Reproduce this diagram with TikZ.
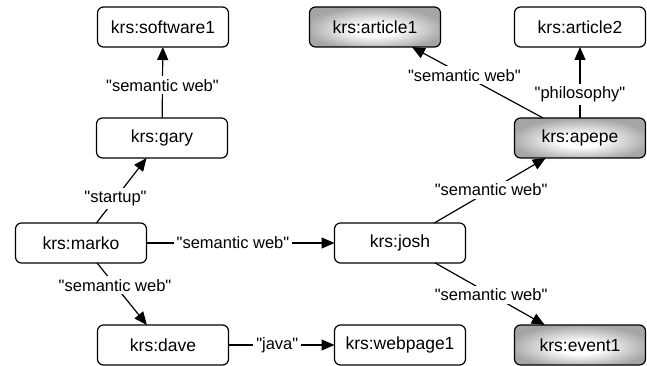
\documentclass[tikz,border=0pt]{standalone}
\usepackage{fontspec}
\setmainfont{Liberation Sans}
\usetikzlibrary{arrows.meta}

\definecolor{cshade}{RGB}{165,165,165}
\pgfdeclareradialshading{boxglow}{\pgfpoint{0bp}{-4bp}}{%
  color(0bp)=(white); color(8bp)=(white); color(27bp)=(cshade); color(50bp)=(cshade)}
\newcommand{\qt}[1]{\textquotedbl#1\textquotedbl}

\tikzset{
  res/.style={draw=black, line width=1.2pt, rounded corners=6pt,
    minimum width=131pt, minimum height=40pt, inner sep=0pt,
    font=\fontsize{17.5}{20}\selectfont},
  resgray/.style={res, shading=boxglow},
  rel/.style={draw=black, line width=1.2pt, -{Triangle[length=13pt,width=11pt]}},
  lbl/.style={fill=white, inner sep=3pt, font=\fontsize{16.5}{19}\selectfont}
}

\begin{document}
\begin{tikzpicture}[y=1pt, x=1pt, yscale=-1, outer sep=0pt]
  \useasboundingbox (0,0) rectangle (647,366);

  % resources
  \node[res] (software1) at (163,27) {krs:software1};
  \node[resgray] (article1) at (375,27) {krs:article1};
  \node[res] (article2) at (580,27) {krs:article2};
  \node[res] (gary) at (162,138) {krs:gary};
  \node[resgray] (apepe) at (580,138) {krs:apepe};
  \node[res] (marko) at (81,243) {krs:marko};
  \node[res] (josh) at (400,243) {krs:josh};
  \node[res] (dave) at (163,345) {krs:dave};
  \node[res] (webpage1) at (400,345) {krs:webpage1};
  \node[resgray] (event1) at (580,345) {krs:event1};

  % relations
  \draw[rel] (gary) -- node[lbl,pos=0.46] {\qt{semantic web}} (software1);
  \draw[rel] (marko) -- node[lbl,pos=0.38] {\qt{startup}} (gary);
  \draw[rel] (marko) -- node[lbl,pos=0.46] {\qt{semantic web}} (josh);
  \draw[rel] (marko) -- node[lbl,pos=0.36] {\qt{semantic web}} (dave);
  \draw[rel] (dave) -- node[lbl,pos=0.46] {\qt{java}} (webpage1);
  \draw[rel] (josh) -- node[lbl,pos=0.51] {\qt{semantic web}} (apepe);
  \draw[rel] (josh) -- node[lbl,pos=0.51] {\qt{semantic web}} (event1);
  \draw[rel] (apepe) -- node[lbl,pos=0.6] {\qt{semantic web}} (article1);
  \draw[rel] (apepe) -- node[lbl,pos=0.33] {\qt{philosophy}} (article2);
\end{tikzpicture}
\end{document}
